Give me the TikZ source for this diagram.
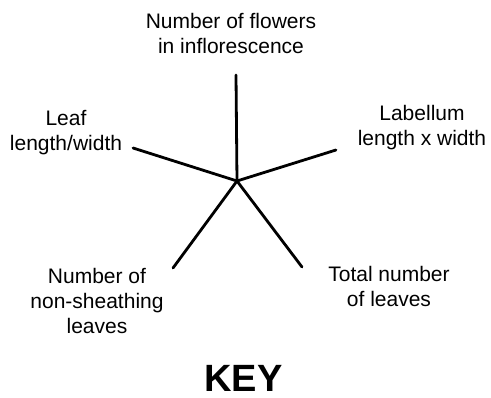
\documentclass[tikz,border=0pt]{standalone}
\usepackage{fontspec}
\setmainfont{Liberation Sans}

\begin{document}
\begin{tikzpicture}[x=1pt,y=1pt,trait/.style={align=center,inner sep=0pt,font=\fontsize{21}{25}\selectfont},
spoke/.style={line width=2.8pt,line cap=round}]
\useasboundingbox (0,0) rectangle (491,398);

\coordinate (hub) at (237,217);
\coordinate (flowers) at (236,323);
\coordinate (leaf) at (133,250);
\coordinate (labellum) at (336,248);
\coordinate (nonsheath) at (173,130);
\coordinate (total) at (302,131);

\draw[spoke] (hub) -- (flowers);
\draw[spoke] (hub) -- (leaf);
\draw[spoke] (hub) -- (labellum);
\draw[spoke] (hub) -- (nonsheath);
\draw[spoke] (hub) -- (total);

\node[trait] (flowerstext) at (231,364.5) {Number of flowers\\in inflorescence};
\node[trait] (leaftext) at (66,265.5) {Leaf\\length/width};
\node[trait] (labellumtext) at (422,270.5) {Labellum\\length x width};
\node[trait] (nonsheathtext) at (97,96.5) {Number of\\non-sheathing\\leaves};
\node[trait] (totaltext) at (389,111) {Total number\\of leaves};

\node[inner sep=0pt,font=\fontsize{38}{44}\selectfont\bfseries] (key) at (243.5,20) {KEY};
\end{tikzpicture}
\end{document}
